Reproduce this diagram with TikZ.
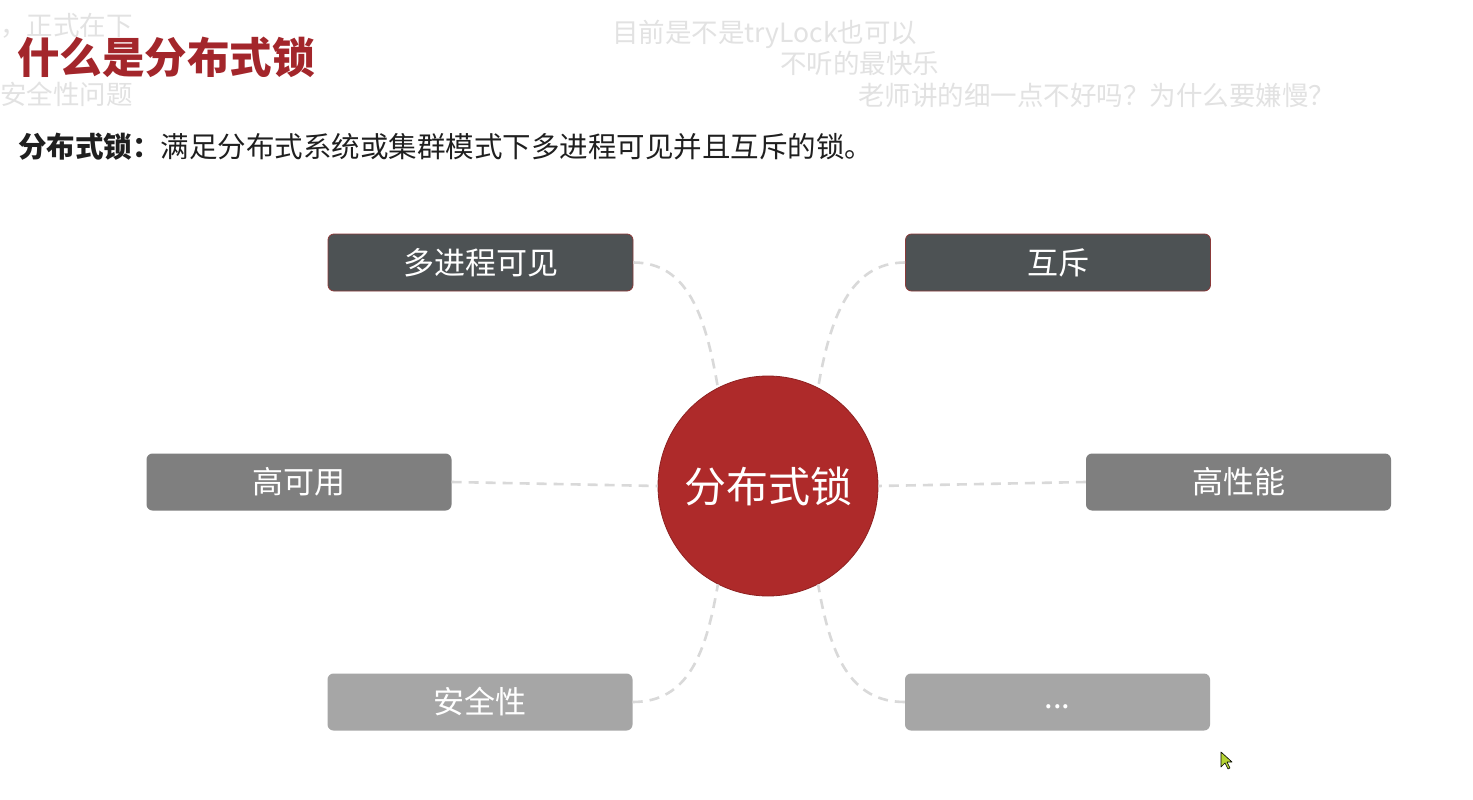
\documentclass[tikz,border=0pt]{standalone}
\usepackage{fontspec}
\setmainfont{Noto Sans CJK SC}
\newfontfamily\cjk{Noto Sans CJK SC}
\definecolor{titlered}{HTML}{A3262B}
\definecolor{circred}{HTML}{AE2A2A}
\definecolor{circline}{HTML}{8E2020}
\definecolor{darkbox}{HTML}{4D5254}
\definecolor{midbox}{HTML}{7F7F7F}
\definecolor{lightbox}{HTML}{A6A6A6}
\definecolor{dashgray}{HTML}{D9D9D9}
\definecolor{boxline}{HTML}{8B3A3A}
\definecolor{danmu}{HTML}{E2E2E2}
\definecolor{cursorfill}{HTML}{B5D334}
\tikzset{
  featbox/.style={rounded corners=6pt, minimum width=305pt, minimum height=57pt, inner sep=0pt, text=white, font=\cjk\fontsize{31}{36}\selectfont},
  conn/.style={draw=dashgray, line width=2.6pt, dash pattern=on 10pt off 7pt},
  danmaku/.style={text=danmu, font=\cjk\fontsize{26.5}{30}\selectfont, anchor=west, inner sep=0pt, text height=0.72em, text depth=0.08em}
}
\begin{document}
\begin{tikzpicture}[x=1pt,y=-1pt]
\useasboundingbox (0,0) rectangle (1473,800);
\fill[white] (0,0) rectangle (1473,800);
\begin{scope}
\clip (0,0) rectangle (1473,800);
% bullet comments
\node[danmaku] (d1) at (0,32) {，正式在下};
\node[danmaku] (d2) at (0,101) {安全性问题};
\node[danmaku] (d3) at (612,39) {目前是不是tryLock也可以};
\node[danmaku] (d4) at (780,70) {不听的最快乐};
\node[danmaku] (d5) at (858,102) {老师讲的细一点不好吗？为什么要嫌慢？};
\end{scope}
% title
\node[anchor=west, inner sep=0pt, text height=0.72em, text depth=0.08em, text=titlered, font=\cjk\bfseries\fontsize{42.5}{48}\selectfont] (title) at (17,70) {什么是分布式锁};
\node[anchor=west, inner sep=0pt, text=black!88, font=\cjk\fontsize{28.5}{32}\selectfont] (sub) at (18,147) {{\bfseries 分布式锁：}满足分布式系统或集群模式下多进程可见并且互斥的锁。};
% center
\node[circle, fill=circred, draw=circline, line width=0.8pt, minimum size=220pt, inner sep=0pt, text=white, font=\cjk\fontsize{42}{48}\selectfont] (c) at (768,486) {分布式锁};
% boxes
\node[featbox, fill=darkbox, draw=boxline, line width=0.8pt] (b1) at (480.5,262.5) {多进程可见};
\node[featbox, fill=darkbox, draw=boxline, line width=0.8pt] (b2) at (1058,262.5) {互斥};
\node[featbox, fill=midbox] (b3) at (299,482) {高可用};
\node[featbox, fill=midbox] (b4) at (1238.5,482) {高性能};
\node[featbox, fill=lightbox] (b5) at (480,702) {安全性};
\node[featbox, fill=lightbox] (b6) at (1057.5,702) {\raisebox{-0.45em}{...}};
% connectors
\draw[conn] (b1.east) .. controls +(55,0) and +(-12,-70) .. (c.117);
\draw[conn] (b2.west) .. controls +(-55,0) and +(12,-70) .. (c.63);
\draw[conn] (b3.east) -- (c.180);
\draw[conn] (b4.west) -- (c.0);
\draw[conn] (b5.east) .. controls +(55,0) and +(-12,70) .. (c.243);
\draw[conn] (b6.west) .. controls +(-55,0) and +(12,70) .. (c.297);
% mouse cursor
\coordinate (cur) at (1221,752);
\draw[fill=cursorfill, line width=0.6pt, line join=round] (cur) -- ++(0,15) -- ++(4,-4) -- ++(3,6) -- ++(2,-1) -- ++(-3,-6) -- ++(5,0) -- cycle;
\end{tikzpicture}
\end{document}
